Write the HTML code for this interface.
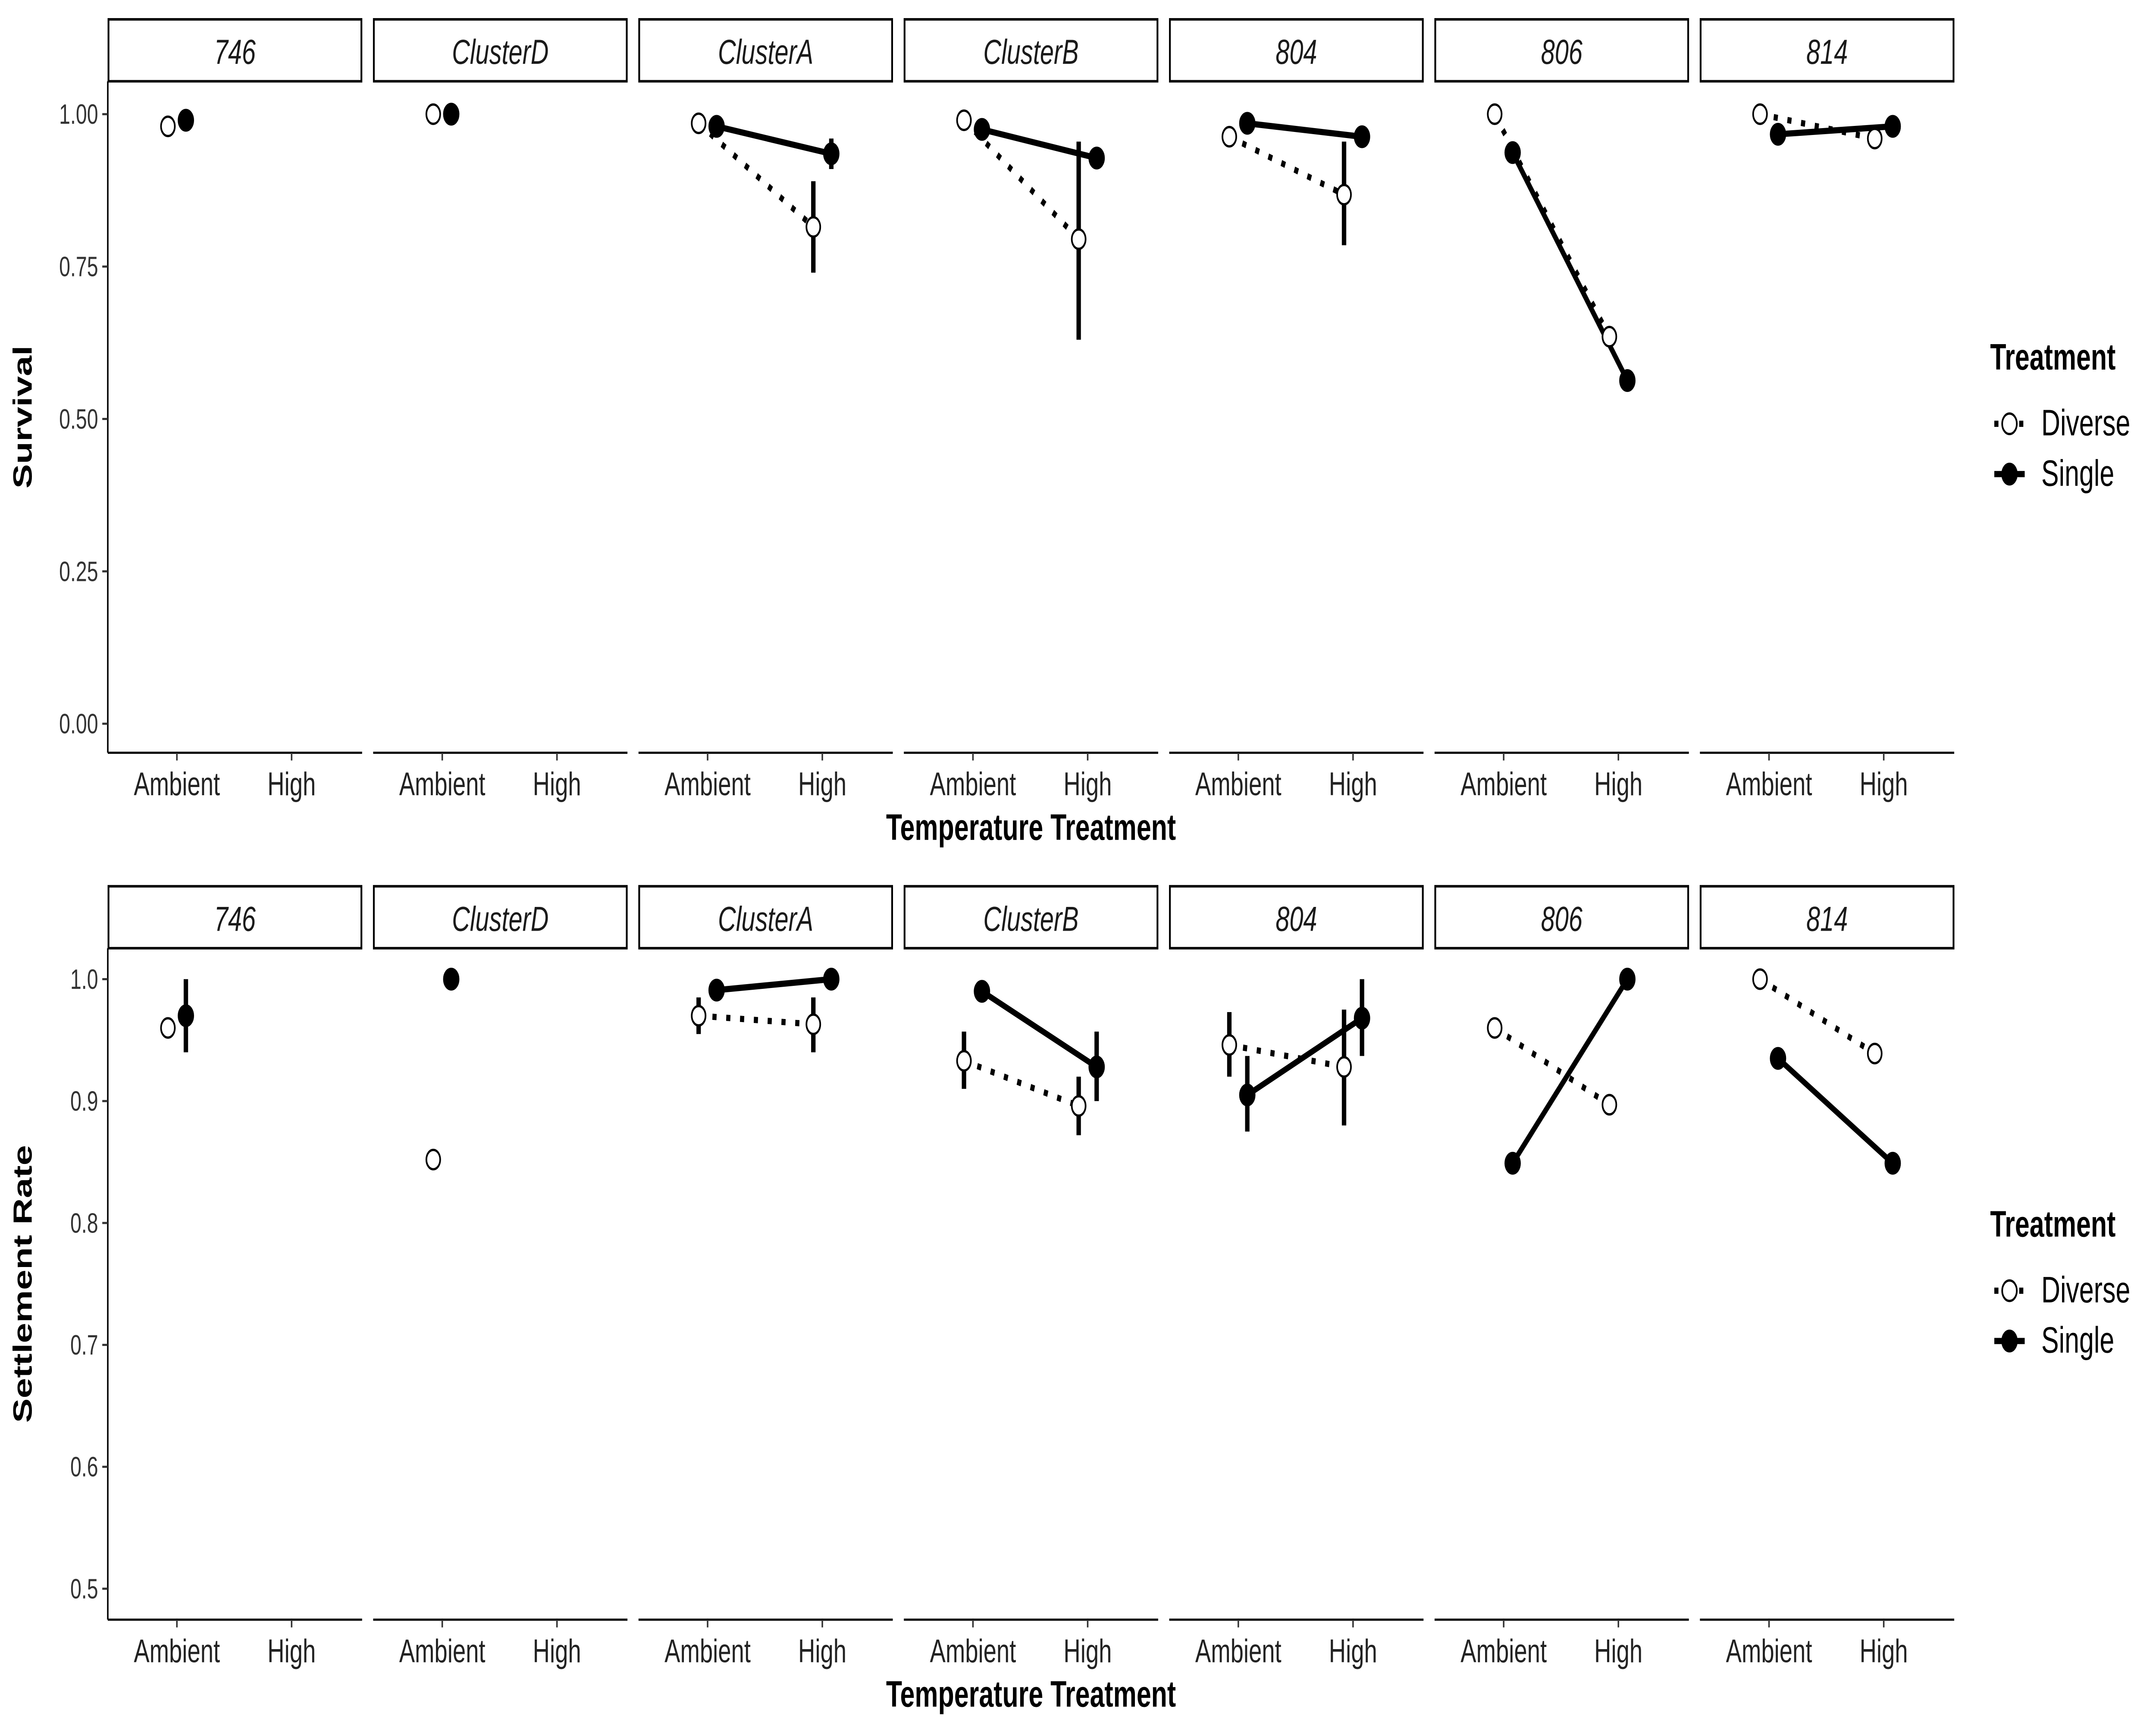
<!DOCTYPE html>
<html><head><meta charset="utf-8"><style>
html,body{margin:0;padding:0;background:#fff;width:100%;height:100%;overflow:hidden;}
svg{display:block;font-family:"Liberation Sans",sans-serif;width:100vw;height:100vh;}
</style></head><body>
<svg xmlns="http://www.w3.org/2000/svg" viewBox="0 0 1560 891.43" preserveAspectRatio="none">
<rect width="1560" height="891.43" fill="#fff"/>
<g id="chart"></g>
</svg>
<script>
const panels = ["746","ClusterD","ClusterA","ClusterB","804","806","814"];
// Survival: [ambient, high] (null = missing)
const survDiverse = [[0.98,null],[1.0,null],[0.985,0.815],[0.99,0.795],[0.963,0.868],[1.0,0.635],[1.0,0.96]];
const survSingle  = [[0.99,null],[1.0,null],[0.98,0.935],[0.975,0.928],[0.985,0.963],[0.937,0.563],[0.967,0.98]];
const survDivErr  = [[[0.97,0.99],null],[null,null],[[0.98,0.99],[0.74,0.89]],[[0.985,0.995],[0.63,0.955]],[[0.958,0.968],[0.785,0.955]],[null,null],[[1.0,1.0],null]];
const survSinErr  = [[null,null],[null,null],[null,[0.91,0.96]],[null,null],[null,null],[null,null],[null,null]];
// Settlement: [ambient, high]
const setDiverse = [[0.96,null],[0.852,null],[0.97,0.963],[0.933,0.896],[0.946,0.928],[0.96,0.897],[1.0,0.939]];
const setSingle  = [[0.97,null],[1.0,null],[0.991,1.0],[0.99,0.928],[0.905,0.968],[0.849,1.0],[0.935,0.849]];
const setDivErr  = [[null,null],[null,null],[[0.955,0.985],[0.94,0.985]],[[0.91,0.957],[0.872,0.92]],[[0.92,0.973],[0.88,0.975]],[null,null],[null,null]];
const setSinErr  = [[[0.94,1.0],null],[null,null],[null,null],[null,[0.9,0.957]],[[0.875,0.937],[0.937,1.0]],[null,null],[null,null]];
const survTicks = [0,0.25,0.5,0.75,1.0];
const survLabels = ["0.00","0.25","0.50","0.75","1.00"];
const setTicks = [0.5,0.6,0.7,0.8,0.9,1.0];
const setLabels = ["0.5","0.6","0.7","0.8","0.9","1.0"];
const xCats = ["Ambient","High"];

const NS="http://www.w3.org/2000/svg";
const svg=document.getElementById('chart');
function mk(tag,attrs,parent){const e=document.createElementNS(NS,tag);for(const k in attrs)e.setAttribute(k,attrs[k]);(parent||svg).appendChild(e);return e;}

function row(cfg){
  const g=mk('g',{});
  
  
  const yScale=v=>cfg.y0+(cfg.v0-v)/(cfg.v0-cfg.v1)*(cfg.y1-cfg.y0);
  const ya=mk('line',{x1:78,x2:78,y1:cfg.top,y2:cfg.bottom,stroke:'#000','stroke-width':1.1},g);
  
  
  cfg.ticks.forEach((t,i)=>{
    mk('line',{x1:74,x2:78,y1:yScale(t),y2:yScale(t),stroke:'#333','stroke-width':1.1},g);
    const tx=mk('text',{x:71,y:yScale(t)+5,'text-anchor':'end','font-size':14.5,fill:'#333'},g);
    tx.textContent=cfg.labels[i];
    
    
  });
  const yt=mk('text',{transform:`translate(23,${(cfg.top+cfg.bottom)/2}) rotate(-90)`,'text-anchor':'middle','font-size':19,'font-weight':'bold'},g);
  yt.textContent=cfg.ytitle;
  
  
  const xt=mk('text',{x:746,y:cfg.bottom+45,'text-anchor':'middle','font-size':19,'font-weight':'bold'},g);
  xt.textContent='Temperature Treatment';
  
  
  panels.forEach((p,i)=>{
    const px=78+i*192;
    const pg=mk('g',{},g);
    
    
    const sb=mk('rect',{x:px+0.5,y:cfg.stripTop,width:183,height:32,fill:'#fff',stroke:'#000','stroke-width':1.3},pg);
    
    
    const st=mk('text',{x:px+92,y:cfg.stripTop+23,'text-anchor':'middle','font-size':18,'font-style':'italic',fill:'#1a1a1a'},pg);
    st.textContent=p;
    
    
    mk('line',{x1:px,x2:px+184,y1:cfg.bottom,y2:cfg.bottom,stroke:'#000','stroke-width':1.1},pg);
    const xs=[px+50,px+133];
    xs.forEach((x,k)=>{
      mk('line',{x1:x,x2:x,y1:cfg.bottom,y2:cfg.bottom+4,stroke:'#333','stroke-width':1.1},pg);
      const tl=mk('text',{x:x,y:cfg.bottom+22,'text-anchor':'middle','font-size':17,fill:'#222'},pg);
      tl.textContent=xCats[k];
      
      
    });
    const series=[
      {vals:cfg.div[i],err:cfg.divErr[i],off:-6.5,dash:'3 7',fill:'#fff',nm:'diverse'},
      {vals:cfg.sin[i],err:cfg.sinErr[i],off:6.5,dash:null,fill:'#000',nm:'single'}];
    series.forEach(s=>{
      const pts=[];
      s.vals.forEach((v,k)=>{ if(v!=null) pts.push([xs[k]+s.off,yScale(v)]); });
      if(pts.length==2){
        const a={x1:pts[0][0],y1:pts[0][1],x2:pts[1][0],y2:pts[1][1],stroke:'#000','stroke-width':3.2};
        if(s.dash) a['stroke-dasharray']=s.dash;
        const ln=mk('line',a,pg);
        
        
      }
      (s.err||[]).forEach((e,k)=>{
        if(!e||e[0]==null||e[1]==null) return;
        const eb=mk('line',{x1:xs[k]+s.off,x2:xs[k]+s.off,y1:yScale(e[0]),y2:yScale(e[1]),stroke:'#000','stroke-width':3.2},pg);
        
        
      });
    });
    series.forEach(s=>{
      s.vals.forEach((v,k)=>{
        if(v==null) return;
        const c=mk('circle',{cx:xs[k]+s.off,cy:yScale(v),r:s.fill=='#000'?5.3:5,fill:s.fill,stroke:'#000','stroke-width':1.2},pg);
        
        
      });
    });
  });
  const lg=mk('g',{},g);
  
  
  const lt=mk('text',{x:1440,y:cfg.legTop,'font-size':19,'font-weight':'bold'},lg);
  lt.textContent='Treatment';
  [['Diverse','#fff','3 3'],['Single','#000',null]].forEach((d,k)=>{
    const yy=cfg.legTop+34+k*26;
    const a={x1:1443,x2:1465,y1:yy-6,y2:yy-6,stroke:'#000','stroke-width':3.2};
    if(d[2]) a['stroke-dasharray']=d[2];
    mk('line',a,lg);
    mk('circle',{cx:1454,cy:yy-6,r:5.3,fill:d[1],stroke:'#000','stroke-width':1.2},lg);
    const tx=mk('text',{x:1477,y:yy,'font-size':19},lg);
    tx.textContent=d[0];
    
    
  });
}
row({name:'survival-row',top:42,bottom:389,stripTop:10,y0:59,v0:1.0,y1:374,v1:0,ticks:survTicks,labels:survLabels,ytitle:'Survival',div:survDiverse,sin:survSingle,divErr:survDivErr,sinErr:survSinErr,legTop:191});
row({name:'settlement-row',top:490,bottom:837,stripTop:458,y0:506,v0:1.0,y1:821,v1:0.5,ticks:setTicks,labels:setLabels,ytitle:'Settlement Rate',div:setDiverse,sin:setSingle,divErr:setDivErr,sinErr:setSinErr,legTop:639});
</script>
</body></html>
